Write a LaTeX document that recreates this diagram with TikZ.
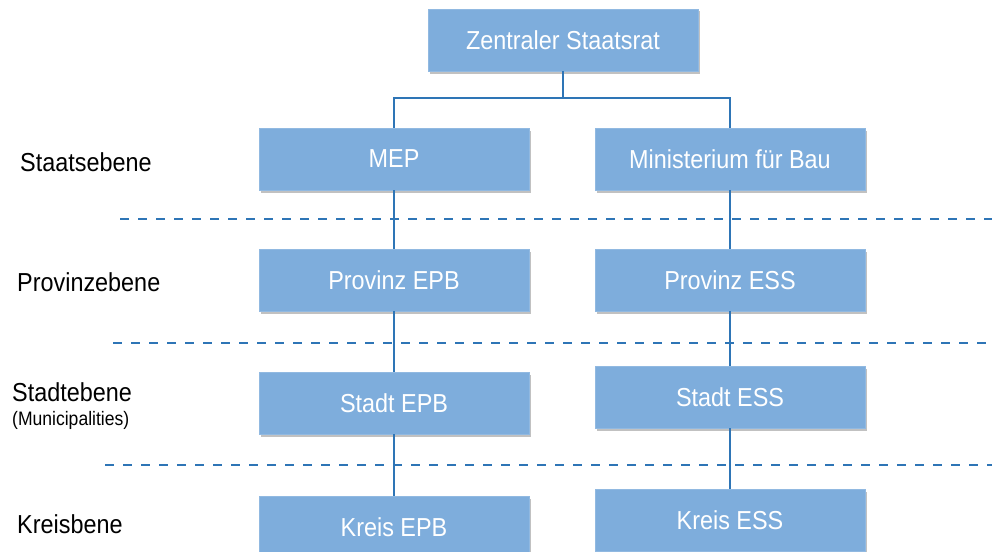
\documentclass[tikz,border=0pt]{standalone}
\usepackage{fontspec}
\setmainfont{Liberation Sans}[FakeStretch=0.9]
\usetikzlibrary{shadows}
\definecolor{boxblue}{RGB}{126,173,220}
\definecolor{lineblue}{RGB}{46,117,182}

\begin{document}
\begin{tikzpicture}[
    x=1pt, y=-1pt,
    box/.style={rectangle, fill=boxblue, draw=boxblue!85!white, line width=0.6pt,
                minimum width=270pt, minimum height=62pt, inner sep=0pt,
                text=white, font=\fontsize{26}{30}\selectfont,
                drop shadow={shadow xshift=1.5pt, shadow yshift=-2.5pt,
                             opacity=0.35, fill=black!70}},
    lvl/.style={anchor=west, inner sep=0pt, font=\fontsize{26}{30}\selectfont},
    sublvl/.style={anchor=west, inner sep=0pt, font=\fontsize{19.5}{23}\selectfont},
    conn/.style={draw=lineblue, line width=2.2pt},
    sep/.style={draw=lineblue, line width=2.2pt, dash pattern=on 9pt off 9pt}
]
\useasboundingbox (0,0) rectangle (995,551);
\clip (0,0) rectangle (995,551);

% level separators
\draw[sep] (120,219) -- (992,219);
\draw[sep] (113,343) -- (995,343);
\draw[sep] (105,465) -- (992,465);

% level names
\node[lvl] (lstaat) at (20,162) {Staatsebene};
\node[lvl] (lprov) at (17,282) {Provinzebene};
\node[lvl] (lstadt) at (12,392) {Stadtebene};
\node[sublvl] (lmuni) at (12,420) {(Municipalities)};
\node[lvl] (lkreis) at (17,524) {Kreisbene};

% boxes
\node[box] (zsr) at (563,40) {Zentraler Staatsrat};
\node[box] (mep) at (394,159) {MEP};
\node[box] (mfb) at (730,159) {Ministerium für Bau};
\node[box] (pepb) at (394,280) {Provinz EPB};
\node[box] (pess) at (730,280) {Provinz ESS};
\node[box] (sepb) at (394,403) {Stadt EPB};
\node[box] (sess) at (730,397) {Stadt ESS};
\node[box] (kepb) at (394,527) {Kreis EPB};
\node[box] (kess) at (730,520) {Kreis ESS};

% connectors
\coordinate (split) at (563,98);
\draw[conn] (zsr.south) -- (split);
\draw[conn] (mep.north) |- (split) -| (mfb.north);
\draw[conn] (mep.south) -- (pepb.north);
\draw[conn] (pepb.south) -- (sepb.north);
\draw[conn] (sepb.south) -- (kepb.north);
\draw[conn] (mfb.south) -- (pess.north);
\draw[conn] (pess.south) -- (sess.north);
\draw[conn] (sess.south) -- (kess.north);
\end{tikzpicture}
\end{document}
